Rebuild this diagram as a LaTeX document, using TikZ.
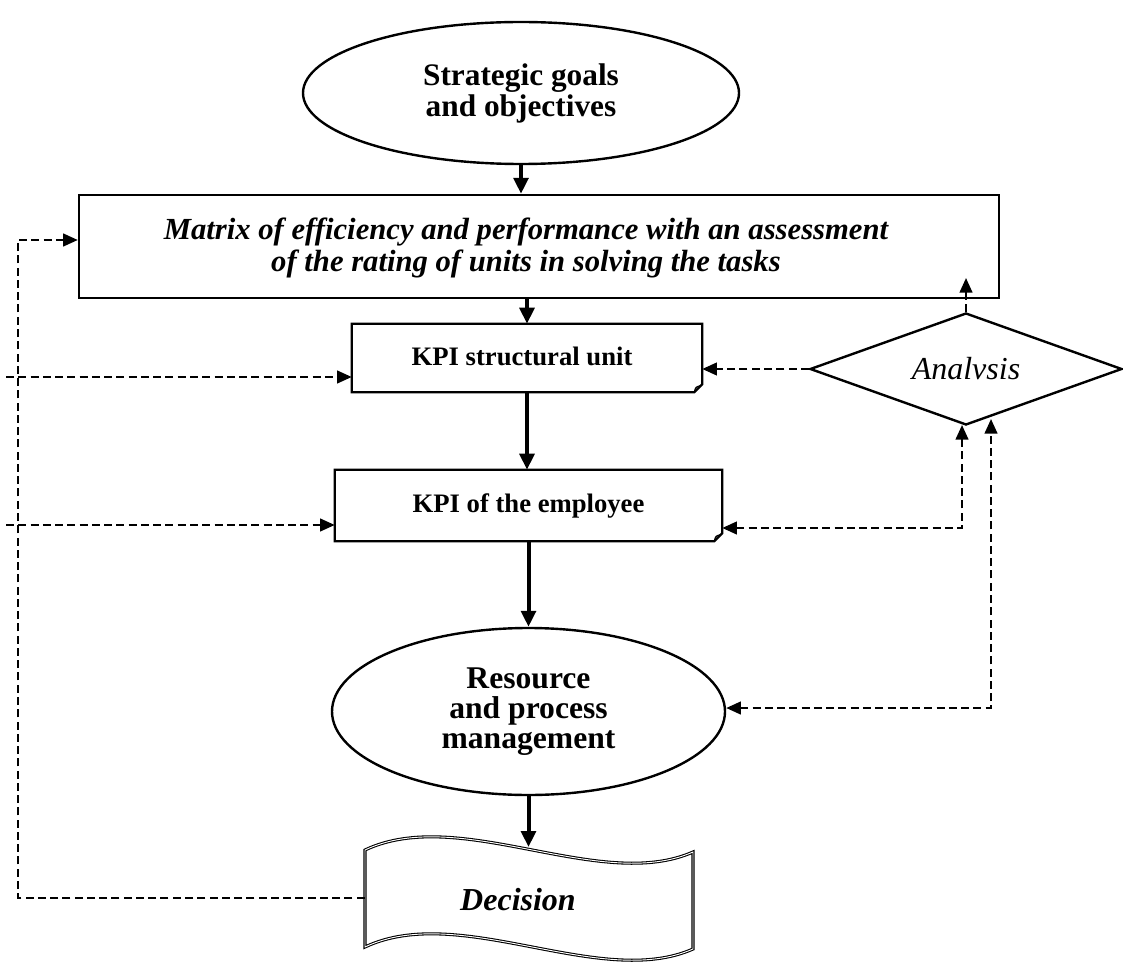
\documentclass[tikz,border=0pt]{standalone}
\usepackage{fontspec}
\setmainfont{Liberation Serif}
\usetikzlibrary{shapes.geometric,arrows.meta}
\begin{document}
\begin{tikzpicture}[x=0.75pt,y=-0.75pt,
  shapeline/.style={line width=1.8pt},
  flow/.style={line width=3pt,-{Triangle[length=12pt,width=11pt]}},
  fb/.style={line width=1.7pt,dash pattern=on 6pt off 3.2pt,-{Triangle[length=11pt,width=9.5pt]}},
  fbboth/.style={line width=1.7pt,dash pattern=on 6pt off 3.2pt,{Triangle[length=11pt,width=9.5pt]}-{Triangle[length=11pt,width=9.5pt]}},
  bigtxt/.style={font=\fontsize{23.5}{23.25}\selectfont\bfseries, align=center},
  kpitxt/.style={font=\fontsize{20}{20}\selectfont\bfseries},
]
\useasboundingbox (0,0) rectangle (1123,962);

% Strategic goals
\node[ellipse, draw, shapeline, minimum width=327pt, minimum height=106.5pt, inner sep=0pt, bigtxt] (strat) at (521,93) {Strategic goals\\and objectives};

% Matrix box
\node[draw, shapeline, minimum width=690pt, minimum height=77.25pt, inner sep=0pt] (matrix) at (539,246.5) {};
\node[font=\fontsize{23}{24}\selectfont\bfseries\itshape, align=center] (mtxt) at (526,248) {Matrix of efficiency and performance with an assessment\\of the rating of units in solving the tasks};

% KPI structural unit
\node[minimum width=262.5pt, minimum height=51pt, inner sep=0pt] (kpisu) at (527,358) {};
\node[kpitxt] (kpisutxt) at (522,356) {KPI structural unit};
\draw[shapeline] (kpisu.north west) -- (kpisu.north east) -- ([yshift=6pt]kpisu.south east) -- ([xshift=-6pt]kpisu.south east) -- (kpisu.south west) -- cycle;
\draw[line width=0.9pt] ([xshift=-6pt]kpisu.south east) .. controls ([xshift=-5pt,yshift=4pt]kpisu.south east) .. ([xshift=-1pt,yshift=5pt]kpisu.south east);

% KPI of the employee
\node[minimum width=290.25pt, minimum height=53.25pt, inner sep=0pt, kpitxt] (kpiemp) at (528.5,505.5) {KPI of the employee};
\draw[shapeline] (kpiemp.north west) -- (kpiemp.north east) -- ([yshift=6pt]kpiemp.south east) -- ([xshift=-6pt]kpiemp.south east) -- (kpiemp.south west) -- cycle;
\draw[line width=0.9pt] ([xshift=-6pt]kpiemp.south east) .. controls ([xshift=-5pt,yshift=4pt]kpiemp.south east) .. ([xshift=-1pt,yshift=5pt]kpiemp.south east);

% Resource and process management
\node[ellipse, draw, shapeline, minimum width=294.75pt, minimum height=125.25pt, inner sep=0pt, font=\fontsize{23.7}{22.5}\selectfont\bfseries, align=center] (res) at (528.5,711.5) {Resource\\and process\\management};

% Analysis diamond
\node[diamond, draw, shapeline, aspect=2.8, minimum width=234pt, minimum height=84pt, inner sep=0pt, font=\fontsize{24}{24}\selectfont\itshape] (an) at (966,369) {Analvsis};

% Decision tape
\node[minimum width=246pt, minimum height=72pt, inner sep=0pt] (dec) at (529,898) {};
\draw[line width=0.8pt, double, double distance=0.7pt] (365,850) .. controls (460,805) and (600,893) .. (693,852) -- (693,949) .. controls (600,990) and (460,902) .. (365,947) -- cycle;
\node[font=\fontsize{24}{24}\selectfont\bfseries\itshape] (dectxt) at (518,900) {Decision};

% Main flow
\coordinate (dtop) at (529,847);
\draw[flow] (strat.south) -- (strat.south |- matrix.north);
\draw[flow] (kpisu.north |- matrix.south) -- (kpisu.north);
\draw[flow] (kpisu.south) -- (kpisu.south |- kpiemp.north);
\draw[flow] (kpiemp.south) -- (res.north);
\draw[flow] (res.south) -- (res.south |- dtop);

% Left feedback
\coordinate (fbD) at (18,898);
\coordinate (fbM) at (18,240);
\draw[fb] (dec.west) -- (fbD) -- (fbM) -- (matrix.west |- fbM);
\coordinate (s1) at (6,377);
\draw[fb] (s1) -- (kpisu.west |- s1);
\coordinate (s2) at (6,525);
\draw[fb] (s2) -- (kpiemp.west |- s2);

% Right feedback
\coordinate (up) at (969,278);
\draw[fb] (an.north) -- (an.north |- up);
\draw[fb] (an.west) -- (kpisu.east |- an.west);
\coordinate (r1) at (962,528);
\coordinate (r1t) at (962,425);
\draw[fbboth] (kpiemp.east |- r1) -- (r1) -- (r1t);
\coordinate (r2) at (991,708);
\coordinate (r2t) at (991,419);
\draw[fbboth] (res.east |- r2) -- (r2) -- (r2t);
\end{tikzpicture}
\end{document}
